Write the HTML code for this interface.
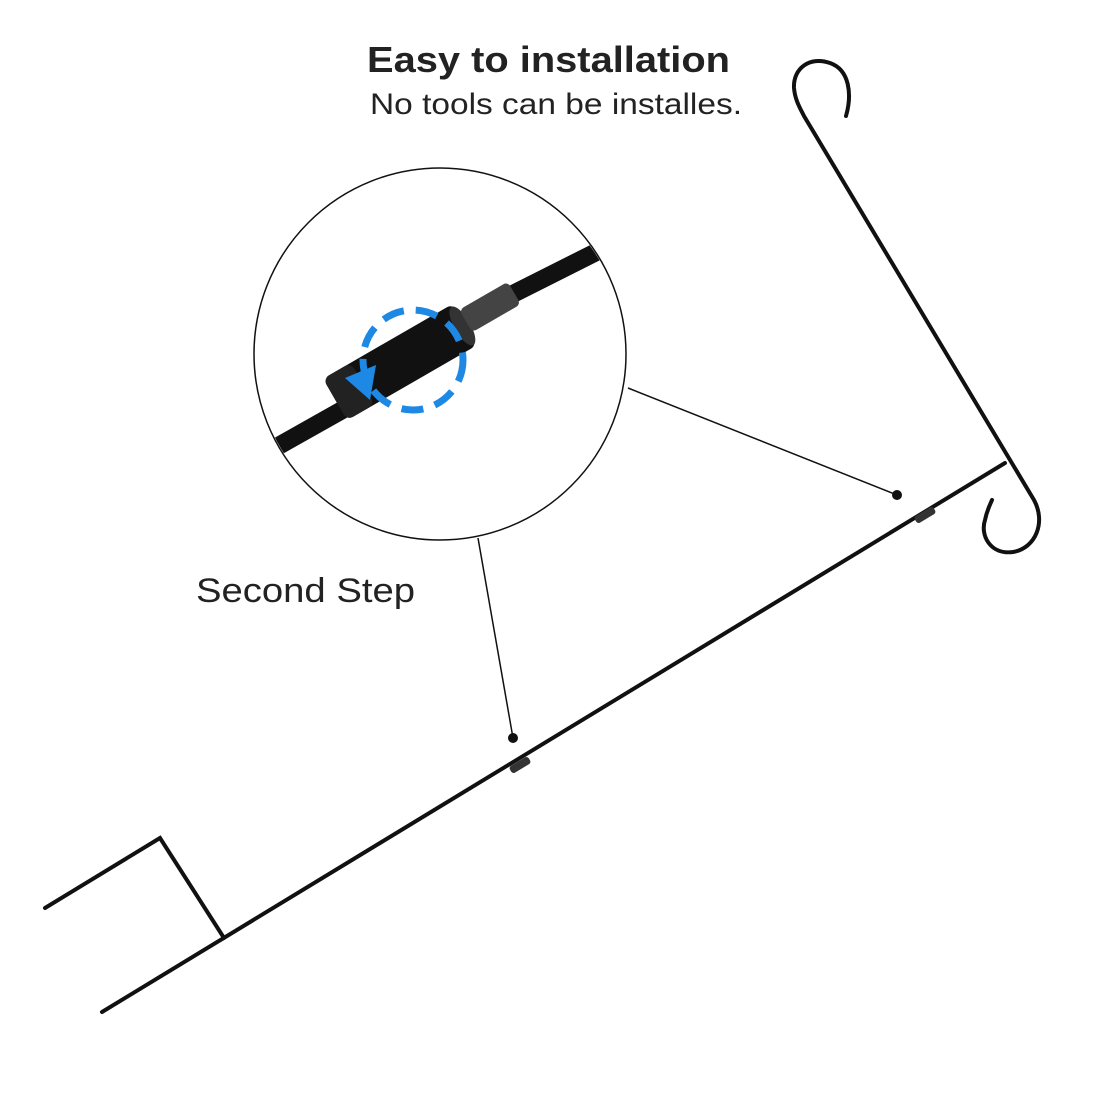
<!DOCTYPE html>
<html><head><style>
body{margin:0;background:#fff;}
svg{display:block}
text{font-family:"Liberation Sans",sans-serif;fill:#222}
</style></head><body>
<svg width="1100" height="1100" viewBox="0 0 1100 1100">
<text x="367" y="72" font-size="36" font-weight="bold" textLength="363" lengthAdjust="spacingAndGlyphs">Easy to installation</text>
<text x="370" y="114" font-size="30" textLength="372" lengthAdjust="spacingAndGlyphs">No tools can be installes.</text>
<text x="196" y="602" font-size="34" textLength="219" lengthAdjust="spacingAndGlyphs">Second Step</text>
<g fill="none" stroke="#111" stroke-width="4" stroke-linecap="round">
<path d="M846,116 C852,95 850,70 830,63 C810,56 793,68 794,88 C795,100 800,108 804,116 L1034,500 C1046,522 1036,548 1013,552 C990,555 980,535 985,520 C987,510 990,505 992,500"/>
<path d="M1005,463 L102,1012"/>
<path d="M45,908 L160,838 L224,938"/>
</g>
<g stroke="#111" stroke-width="1.5">
<line x1="628" y1="388" x2="897" y2="495"/>
<line x1="478" y1="538" x2="513" y2="738"/>
</g>
<circle cx="897" cy="495" r="5" fill="#111"/>
<circle cx="513" cy="738" r="5" fill="#111"/>
<g transform="translate(925,515) rotate(-31)"><rect x="-11" y="-4" width="22" height="8" rx="3" fill="#333"/></g>
<g transform="translate(520,765) rotate(-31)"><rect x="-11" y="-4" width="22" height="8" rx="3" fill="#333"/></g>
<circle cx="440" cy="354" r="186" fill="none" stroke="#111" stroke-width="1.5"/>
<defs><clipPath id="c"><circle cx="440" cy="354" r="185"/></clipPath></defs>
<g clip-path="url(#c)">
<line x1="250" y1="462" x2="360" y2="400" stroke="#111" stroke-width="18"/>
<line x1="505" y1="298" x2="640" y2="230" stroke="#111" stroke-width="18"/>
<g transform="translate(400,362) rotate(-30)">
<rect x="-75" y="-24" width="150" height="48" rx="7" fill="#111"/>
<rect x="-75" y="-24" width="32" height="48" rx="7" fill="#222"/>
<ellipse cx="72" cy="0" rx="8" ry="22" fill="#333"/>
</g>
<g transform="translate(490,307) rotate(-30)">
<rect x="-28" y="-13" width="56" height="26" rx="5" fill="#444"/>
</g>
<circle cx="413" cy="360" r="50" fill="none" stroke="#1e88e5" stroke-width="7" stroke-dasharray="22 12"/>
<polygon points="345,378 376,365 370,400" fill="#1e88e5"/>
</g>
</svg>
</body></html>
